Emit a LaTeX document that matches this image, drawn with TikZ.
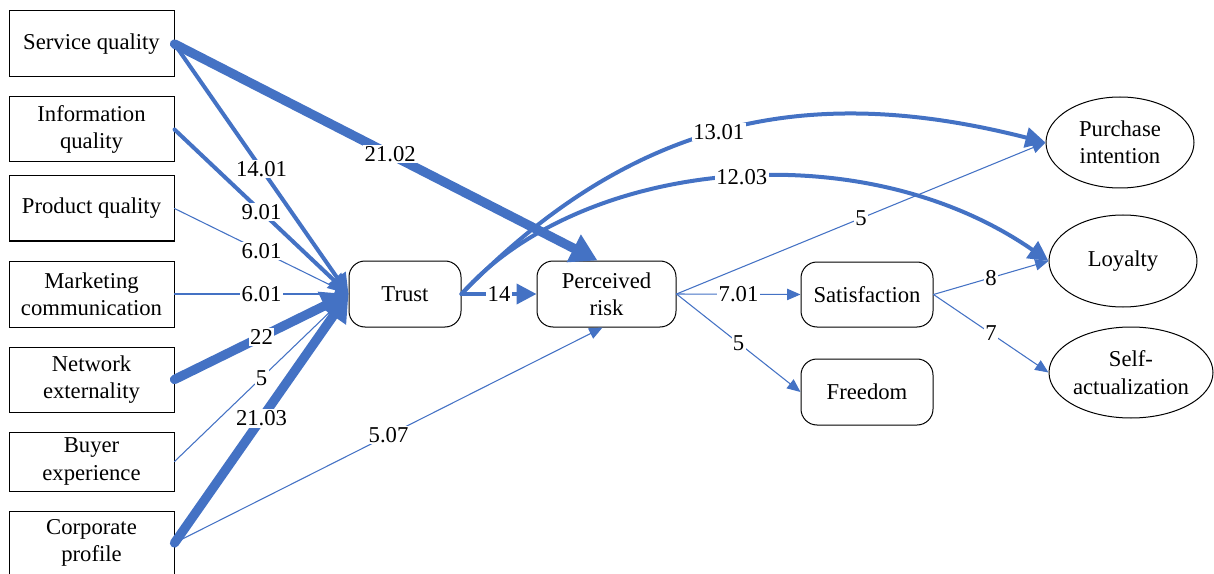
\documentclass[tikz,border=0pt]{standalone}
\usepackage{fontspec}
\setmainfont{Liberation Serif}
\usetikzlibrary{arrows.meta,shapes.geometric,calc}
\newlength\pxu \setlength\pxu{0.75pt}
\definecolor{eblue}{HTML}{4472C4}
\newcommand\fsz{\fontsize{17pt}{20.5pt}\selectfont}
\begin{document}
\begin{tikzpicture}[x=0.75pt,y=-0.75pt,
  box/.style={draw=black, line width=0.75pt, minimum width=165\pxu, inner sep=0pt, align=center, font=\fsz},
  rbox/.style={draw=black, line width=0.75pt, rounded corners=16\pxu, inner sep=0pt, align=center, font=\fsz, minimum height=66\pxu},
  ell/.style={ellipse, draw=black, line width=0.75pt, inner sep=0pt, align=center, font=\fsz},
  lbl/.style={fill=white, inner sep=1pt, font=\fsz, text=black},
  eb/.style={draw=eblue, line cap=round},
  ethin/.style={eb, line width=0.8pt, -{Triangle[length=10pt,width=8.5pt]}},
  emid/.style={eb, line width=3pt, -{Triangle[length=15pt,width=15pt]}},
  ethick/.style={eb, line width=7pt, -{Triangle[length=20pt,width=22pt]}}
]
\useasboundingbox (0,0) rectangle (1214,574);
% left boxes
\node[box, minimum height=66\pxu] (sq) at (91.5,44) {Service quality};
\node[box, minimum height=65\pxu] (iq) at (91.5,129.5) {Information\\quality};
\node[box, minimum height=65\pxu] (pq) at (91.5,208.5) {Product quality};
\node[box, minimum height=66\pxu] (mc) at (91.5,294) {Marketing\\communication};
\node[box, minimum height=65\pxu] (ne) at (91.5,379.5) {Network\\externality};
\node[box, minimum height=59\pxu] (be) at (91.5,461.5) {Buyer\\experience};
\node[box, minimum height=64\pxu] (cp) at (91.5,543) {Corporate\\profile};
% middle
\node[rbox, minimum width=112\pxu] (tr) at (405,294) {Trust};
\node[rbox, minimum width=139\pxu] (pr) at (606.5,294) {Perceived\\risk};
\node[rbox, minimum width=132\pxu, minimum height=65\pxu] (sat) at (867,294.5) {Satisfaction};
\node[rbox, minimum width=132\pxu] (fr) at (867,392) {Freedom};
% right
\node[ell, minimum width=148\pxu, minimum height=91\pxu] (pi) at (1120,142.5) {Purchase\\intention};
\node[ell, minimum width=148\pxu, minimum height=92\pxu] (lo) at (1123,261) {Loyalty};
\node[ell, minimum width=164\pxu, minimum height=91\pxu] (sa) at (1131,372.5) {Self-\\actualization};
\coordinate (prN) at ($(pr.north)+(-9,0)$);
\coordinate (prS) at ($(pr.south)+(-4,0)$);
% edges to trust
\draw[emid] (sq.east) -- node[lbl]{14.01} (tr.west);
\draw[emid] (iq.east) -- node[lbl]{9.01} (tr.west);
\draw[ethin] (pq.east) -- node[lbl]{6.01} (tr.west);
\draw[ethin] (mc.east) -- node[lbl]{6.01} (tr.west);
\draw[ethin] (be.east) -- node[lbl]{5} (tr.west);
\draw[ethick] (ne.east) -- node[lbl]{22} (tr.west);
\draw[ethick] (cp.east) -- node[lbl]{21.03} (tr.west);
\draw[ethin] (cp.east) -- node[lbl]{5.07} (prS);
% curves
\draw[emid] (tr.east) .. controls (640,110) and (820,85) .. node[lbl,pos=0.47]{13.01} (pi.west);
\draw[emid] (tr.east) .. controls (580,160) and (860,130) .. node[lbl,pos=0.52]{12.03} (lo.west);
\draw[ethick] (sq.east) -- node[lbl,pos=0.51]{21.02} (prN);
\draw[emid] (tr.east) -- node[lbl]{14} (pr.west);
% right side
\draw[ethin] (pr.east) -- node[lbl]{5} (pi.west);
\draw[ethin] (pr.east) -- node[lbl]{7.01} (sat.west);
\draw[ethin] (pr.east) -- node[lbl]{5} (fr.west);
\draw[ethin] (sat.east) -- node[lbl]{8} (lo.west);
\draw[ethin] (sat.east) -- node[lbl]{7} (sa.west);
\end{tikzpicture}
\end{document}
